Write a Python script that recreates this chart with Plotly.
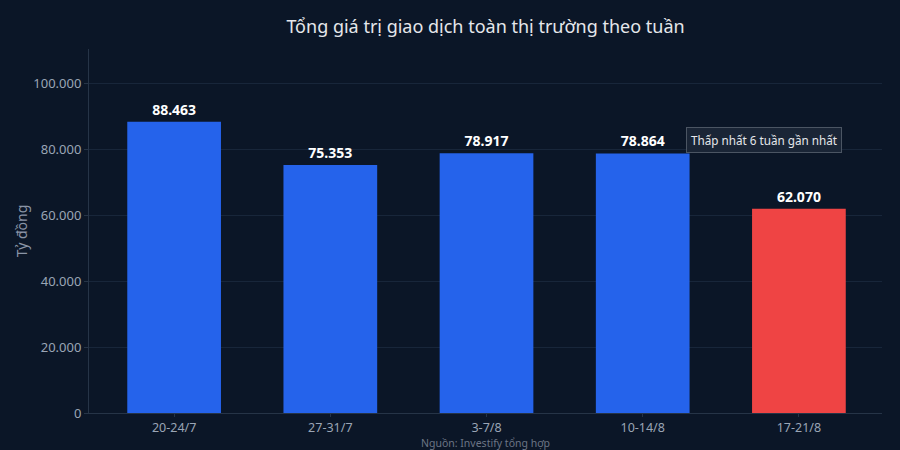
import plotly.graph_objects as go

weeks = ["20-24/7", "27-31/7", "3-7/8", "10-14/8", "17-21/8"]
values = [88463, 75353, 78917, 78864, 62070]
bar_colors = ["#2563eb", "#2563eb", "#2563eb", "#2563eb", "#ef4444"]
y_ticks = [0, 20000, 40000, 60000, 80000, 100000]

bg = "#0b1627"

fig = go.Figure()
fig.add_trace(go.Bar(
    x=weeks, y=values,
    marker=dict(color=bar_colors, line=dict(width=0)),
    width=0.6,
    texttemplate="<b>%{y:,.0f}</b>",
    textposition="outside",
    textfont=dict(color="#ffffff", size=14),
    cliponaxis=False,
    hoverinfo="skip",
))

# ghi chu tuan thap nhat
fig.add_annotation(
    x=weeks[-1], y=values[-1],
    text="Thấp nhất 6 tuần gần nhất",
    showarrow=False,
    xshift=-35, yshift=69,
    font=dict(size=11.7, color="#e5e7eb"),
    bgcolor="#1a2536", bordercolor="#4b5563", borderwidth=1, borderpad=4,
)

fig.add_annotation(
    x=0.5, y=0, xref="paper", yref="paper",
    yanchor="top", yshift=-21,
    text="Nguồn: Investify tổng hợp",
    showarrow=False,
    font=dict(size=10.5, color="#6b7585"),
)

fig.update_layout(
    width=900, height=450,
    paper_bgcolor=bg, plot_bgcolor=bg,
    separators=",.",
    font=dict(family="Noto Sans", color="#9aa5b5"),
    title=dict(text="Tổng giá trị giao dịch toàn thị trường theo tuần",
               xref="paper", x=0.5, xanchor="center", y=0.94, yanchor="middle",
               font=dict(size=18, color="#e5e7eb")),
    margin=dict(l=89, r=18, t=49, b=37),
    showlegend=False,
    bargap=0.4,
)
fig.update_xaxes(range=[-0.545, 4.532], showline=True, linecolor="#263447", linewidth=1,
                 ticks="outside", tickcolor="#263447", ticklen=3,
                 tickfont=dict(size=12.5, color="#9aa5b5"), showgrid=False, fixedrange=True)
fig.update_yaxes(range=[0, max(values) * 1.25], tickvals=y_ticks, tickformat=",d",
                 showline=True, linecolor="#263447", linewidth=1,
                 ticks="outside", tickcolor="#263447", ticklen=4,
                 gridcolor="#18263a", zeroline=False,
                 tickfont=dict(size=13, color="#9aa5b5"),
                 title=dict(text="Tỷ đồng", font=dict(size=14, color="#8a94a6"), standoff=2),
                 fixedrange=True)

fig.write_html("out.html", config={"displayModeBar": False},
               post_script="document.body.style.margin='0';document.body.style.background='%s';" % bg)
